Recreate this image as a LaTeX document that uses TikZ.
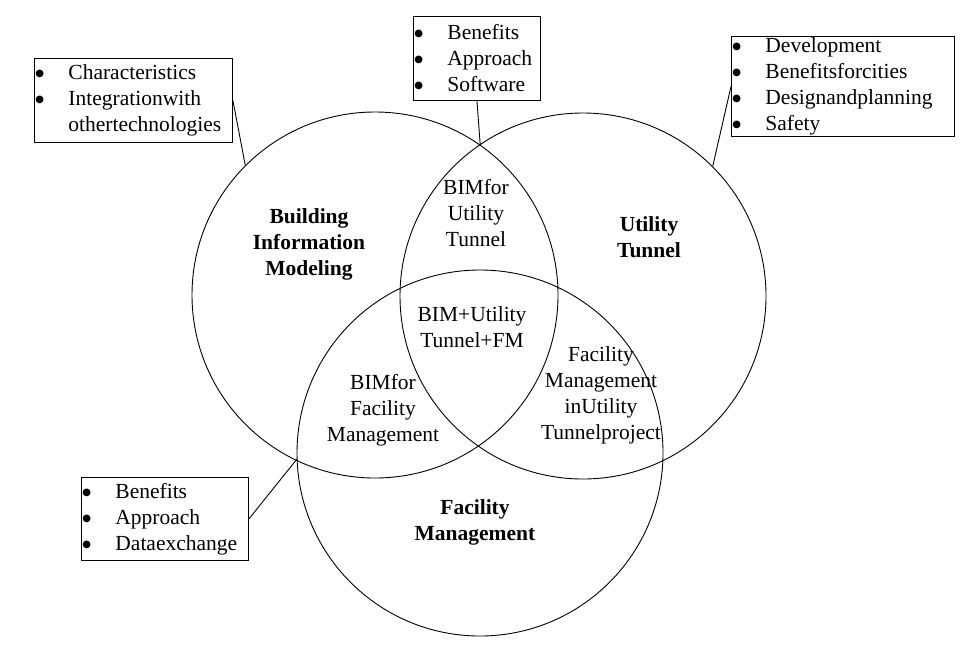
\documentclass[tikz,border=0pt]{standalone}
\usepackage{fontspec}
\setmainfont{Liberation Serif}
\newfontfamily\symfont{DejaVu Sans}
\newcommand\bigdot{\raisebox{3pt}{\symfont\fontsize{10}{11}\selectfont ●}}
\newcommand\itm[1]{\makebox[34pt][l]{\hspace{1pt}\bigdot}#1}
\newcommand\gap{\hspace*{34pt}}

\begin{document}
\begin{tikzpicture}[x=1pt,y=-1pt,
  ring/.style={draw,circle,line width=0.9pt,minimum size=366pt,inner sep=0pt},
  lbl/.style={align=center,font=\fontsize{21.5}{26}\selectfont},
  head/.style={align=center,font=\fontsize{21.5}{26}\selectfont\bfseries},
  listbox/.style={draw,line width=0.9pt,anchor=north west,align=left,
    inner xsep=0pt,inner ysep=0pt,font=\fontsize{21.5}{26}\selectfont}]
\useasboundingbox (0,0) rectangle (976,648);
% the three circles
\node[ring] (bim) at (375,295) {};
\node[ring] (ut) at (583,296) {};
\node[ring] (fm) at (480,453) {};
% labels inside
\node[head] (bimlbl) at (309,244) {Building\\Information\\Modeling};
\node[head] (utlbl) at (649,237) {Utility\\Tunnel};
\node[head] (fmlbl) at (475,522) {Facility\\Management};
\node[lbl] (bimut) at (476,213) {BIMfor\\Utility\\Tunnel};
\node[lbl] (all) at (472,327) {BIM+Utility\\Tunnel+FM};
\node[lbl] (bimfm) at (383,410) {BIMfor\\Facility\\Management};
\node[lbl] (utfm) at (601,395) {Facility\\Management\\inUtility\\Tunnelproject};
% boxes
\node[listbox,text width=198pt,minimum height=84pt] (bimbox) at (34,58)
  {\itm{Characteristics}\\\itm{Integrationwith}\\\gap othertechnologies};
\node[listbox,text width=127pt,minimum height=84pt] (tunbox) at (413,16)
  {\itm{Benefits}\\\itm{Approach}\\\itm{Software}};
\node[listbox,text width=223pt,minimum height=100pt] (utbox) at (731,36)
  {\itm{Development}\\\itm{Benefitsforcities}\\\itm{Designandplanning}\\\itm{Safety}};
\node[listbox,text width=167pt,minimum height=83pt] (fmbox) at (81,477)
  {\itm{Benefits}\\\itm{Approach}\\\itm{Dataexchange}};
% connectors
\coordinate (top) at (bim.55.4);
\coordinate (bimpt) at (bim.135);
\coordinate (utpt) at (ut.45);
\coordinate (fmpt) at (fm.182.4);
\draw[line width=0.9pt] (tunbox.south) -- (top);
\draw[line width=0.9pt] (bimbox.east) -- (bimpt);
\draw[line width=0.9pt] (utbox.west) -- (utpt);
\draw[line width=0.9pt] (fmbox.east) -- (fmpt);
\end{tikzpicture}
\end{document}
